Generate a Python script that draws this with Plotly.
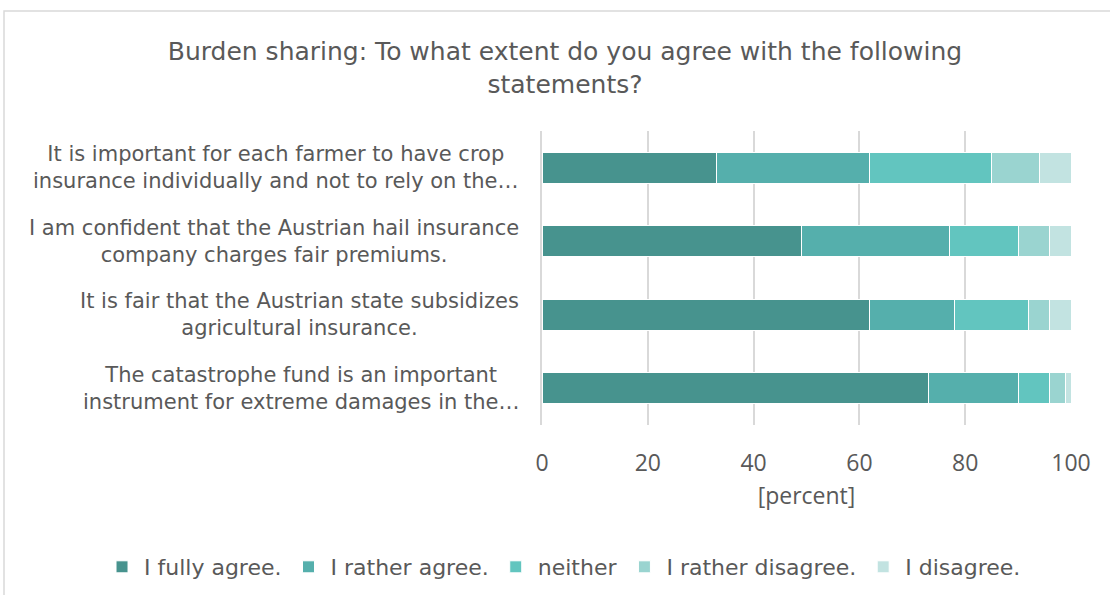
import plotly.graph_objects as go

# statements, listed bottom to top as plotted on the category axis
statements = [
    "The catastrophe fund is an important<br>instrument for extreme damages in the…",
    "It is fair that the Austrian state subsidizes<br>agricultural insurance.",
    "I am confident that the Austrian hail insurance<br>company charges fair premiums.",
    "It is important for each farmer to have crop<br>insurance individually and not to rely on the…",
]
answers = ["I fully agree.", "I rather agree.", "neither", "I rather disagree.", "I disagree."]
fully_agree = [73, 62, 49, 33]
rather_agree = [17, 16, 28, 29]
neither = [6, 14, 13, 23]
rather_disagree = [3, 4, 6, 9]
disagree = [1, 4, 4, 6]
x_ticks = [0, 20, 40, 60, 80, 100]

colors = ["#47938e", "#55afac", "#62c5bf", "#9ad4d0", "#c2e3e1"]
FONT = "DejaVu Sans"
NUM_FONT = "Open Sans"
TEXT = "#595959"

fig = go.Figure()
for name, vals, col in zip(
    answers, [fully_agree, rather_agree, neither, rather_disagree, disagree], colors
):
    fig.add_trace(
        go.Bar(
            y=statements,
            x=vals,
            name=name,
            orientation="h",
            marker=dict(color=col, line=dict(color="white", width=1)),
        )
    )

# centered multi-line category labels, like the original chart
for s in statements:
    fig.add_annotation(
        x=-0.04, xref="paper", y=s, yref="y", text=s, showarrow=False,
        xanchor="right", align="center",
        font=dict(family=FONT, size=21, color=TEXT),
    )

# outer chart frame
fig.add_shape(
    type="rect", xref="paper", yref="paper",
    x0=-1.017, x1=1.1, y0=-0.7, y1=1.408,
    line=dict(color="#d9d9d9", width=1.5), fillcolor="rgba(0,0,0,0)", layer="below",
)

fig.update_layout(
    width=1110,
    height=595,
    barmode="stack",
    bargap=0.58,
    paper_bgcolor="white",
    plot_bgcolor="white",
    margin=dict(l=542, r=39, t=131, b=170, autoexpand=False),
    font=dict(family=FONT, size=21, color=TEXT),
    title=dict(
        text="Burden sharing: To what extent do you agree with the following<br>statements?",
        x=0.509, xanchor="center", y=1 - 60 / 595, yanchor="middle",
        font=dict(family=FONT, size=25, color=TEXT),
    ),
    legend=dict(
        orientation="h",
        x=-0.8355, xanchor="left", y=-0.483, yanchor="middle",
        font=dict(family=FONT, size=22, color=TEXT), traceorder="normal",
        itemwidth=34,
    ),
    showlegend=True,
)
fig.update_xaxes(
    range=[0, 100], tickvals=x_ticks, showgrid=True, gridcolor="#d9d9d9", gridwidth=2,
    zeroline=False, showline=False, ticks="", ticklabelstandoff=22,
    title=dict(text="[percent]", font=dict(family=NUM_FONT, size=23, color=TEXT), standoff=10),
    tickfont=dict(family=NUM_FONT, size=23, color=TEXT),
)
fig.update_yaxes(
    showticklabels=False, showgrid=False, ticks="",
    showline=True, linecolor="#d9d9d9", linewidth=2,
)

fig.write_html(
    "out.html",
    config={"displayModeBar": False},
    post_script="document.body.style.margin='0';",
)
